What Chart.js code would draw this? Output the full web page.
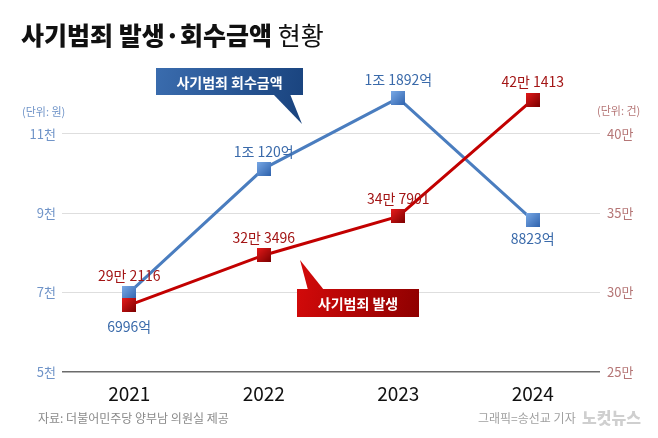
<!DOCTYPE html>
<html>
<head>
<meta charset="utf-8">
<script src="https://cdn.jsdelivr.net/npm/chart.js@4"></script>
<style>
  html, body { margin: 0; background: #fff; }
  #wrap { width: 658px; height: 438px; position: relative; }
</style>
</head>
<body>
<div id="wrap"><canvas id="chart"></canvas></div>
<script>
const years = ['2021', '2022', '2023', '2024'];
const recovered = [6996, 10120, 11892, 8823];        // 회수금액, 억 원
const cases = [292116, 323496, 347901, 421413];      // 발생 건수
const leftTicks = [5000, 7000, 9000, 11000];
const rightTicks = [250000, 300000, 350000, 400000];

const FONT = '"Noto Sans CJK KR", "Noto Sans", sans-serif';
Chart.defaults.font.family = FONT;

// label offsets (px) above/below each marker
const blueOffsets = [34, -17, -18, 19];
const redOffsets = [-29, -18, -18, -18];

const fmtWon = v => v >= 10000 ? `${Math.floor(v / 10000)}조 ${v % 10000}억` : `${v}억`;
const fmtCases = v => `${Math.floor(v / 10000)}만 ${v % 10000}`;

function squareMarker(c1, c2) {
  const s = 14;
  const cv = document.createElement('canvas');
  cv.width = s; cv.height = s;
  const g = cv.getContext('2d');
  const gr = g.createLinearGradient(0, 0, s, s);
  gr.addColorStop(0, c1);
  gr.addColorStop(1, c2);
  g.fillStyle = gr;
  g.fillRect(0, 0, s, s);
  return cv;
}

const blueMarker = squareMarker('#79a9e6', '#2f63ad');
const redMarker = squareMarker('#e51a1a', '#7a0000');

const labelPlugin = {
  id: 'pointLabels',
  afterDatasetsDraw(chart) {
    const ctx = chart.ctx;
    ctx.save();
    ctx.font = `14px ${FONT}`;
    ctx.textAlign = 'center';
    ctx.textBaseline = 'middle';
    chart.data.datasets.forEach((ds, di) => {
      const meta = chart.getDatasetMeta(di);
      meta.data.forEach((pt, i) => {
        const off = ds.yAxisID === 'yL' ? blueOffsets[i] : redOffsets[i];
        ctx.fillStyle = ds.labelColor;
        ctx.fillText(ds.fmt(ds.data[i]), pt.x, pt.y + off);
      });
    });
    ctx.restore();
  }
};

function callout(ctx, box, tri, c1, c2, text) {
  const gr = ctx.createLinearGradient(box.x, box.y, box.x + box.w, box.y + box.h);
  gr.addColorStop(0, c1);
  gr.addColorStop(1, c2);
  ctx.fillStyle = gr;
  ctx.beginPath();
  ctx.moveTo(tri[0][0], tri[0][1]);
  ctx.lineTo(tri[1][0], tri[1][1]);
  ctx.lineTo(tri[2][0], tri[2][1]);
  ctx.closePath();
  ctx.fill();
  ctx.fillRect(box.x, box.y, box.w, box.h);
  ctx.fillStyle = '#fff';
  ctx.font = `bold 14px ${FONT}`;
  ctx.textAlign = 'center';
  ctx.textBaseline = 'middle';
  ctx.fillText(text, box.x + box.w / 2, box.y + box.h / 2 + 1);
}

const decorPlugin = {
  id: 'decor',
  beforeDraw(chart) {
    const ctx = chart.ctx;
    ctx.save();
    // title
    ctx.textBaseline = 'middle';
    ctx.textAlign = 'left';
    ctx.fillStyle = '#111';
    ctx.font = `900 25px ${FONT}`;
    const t1 = '사기범죄 발생·회수금액 ';
    ctx.fillText(t1, 21, 35);
    const w1 = ctx.measureText(t1).width;
    ctx.font = `25px ${FONT}`;
    ctx.fillText('현황', 21 + w1, 35);

    // unit labels
    ctx.font = `11px ${FONT}`;
    ctx.fillStyle = '#7094c8';
    ctx.fillText('(단위: 원)', 22, 112);
    ctx.fillStyle = '#b57676';
    ctx.fillText('(단위: 건)', 597, 111);

    // footer
    ctx.font = `12px ${FONT}`;
    ctx.fillStyle = '#8a8a8a';
    ctx.fillText('자료: 더불어민주당 양부남 의원실 제공', 38, 418);
    ctx.fillStyle = '#a0a0a0';
    ctx.fillText('그래픽=송선교 기자', 478, 418);
    ctx.font = `900 16px ${FONT}`;
    ctx.fillStyle = '#cfcfcf';
    ctx.fillText('노컷뉴스', 582, 418);
    ctx.restore();
  },
  afterDraw(chart) {
    const ctx = chart.ctx;
    ctx.save();
    callout(ctx, { x: 156, y: 68, w: 147, h: 27 },
      [[273, 94], [290, 94], [302, 124]], '#3a6cae', '#1a447f', '사기범죄 회수금액');
    callout(ctx, { x: 297, y: 289, w: 122, h: 28 },
      [[308, 290], [324, 290], [300, 260]], '#d20a0a', '#8e0000', '사기범죄 발생');
    ctx.restore();
  }
};

new Chart(document.getElementById('chart').getContext('2d'), {
  type: 'line',
  data: {
    labels: years,
    datasets: [
      {
        label: '사기범죄 발생',
        data: cases,
        yAxisID: 'yR',
        borderColor: '#c20000',
        borderWidth: 3,
        pointStyle: redMarker,
        pointRadius: 7,
        labelColor: '#a31515',
        fmt: fmtCases,
        clip: false
      },
      {
        label: '사기범죄 회수금액',
        data: recovered,
        yAxisID: 'yL',
        borderColor: '#4a7dbf',
        borderWidth: 3,
        pointStyle: blueMarker,
        pointRadius: 7,
        labelColor: '#3a6aaa',
        fmt: fmtWon,
        clip: false
      }
    ]
  },
  options: {
    responsive: true,
    maintainAspectRatio: false,
    animation: false,
    layout: { padding: { top: 74, left: 0, right: 0, bottom: 0 } },
    plugins: {
      legend: { display: false },
      tooltip: { enabled: false }
    },
    scales: {
      x: {
        offset: true,
        grid: { display: false },
        border: { display: false },
        ticks: { color: '#111', font: { size: 19 }, padding: 2 },
        afterFit(s) { s.height = 66; }
      },
      yL: {
        position: 'left',
        min: 5000,
        max: 12500,
        afterBuildTicks(s) { s.ticks = leftTicks.map(v => ({ value: v })); },
        grid: {
          drawTicks: false,
          color: c => c.tick && c.tick.value === 5000 ? '#6b6b6b' : '#dedede',
          lineWidth: c => c.tick && c.tick.value === 5000 ? 1.5 : 1
        },
        border: { display: false },
        ticks: { color: '#7094c8', padding: 6, font: { size: 13 }, callback: v => `${v / 1000}천` },
        afterFit(s) { s.width = 62; }
      },
      yR: {
        position: 'right',
        min: 250000,
        max: 437500,
        afterBuildTicks(s) { s.ticks = rightTicks.map(v => ({ value: v })); },
        grid: { display: false, drawTicks: false },
        border: { display: false },
        ticks: { color: '#b57676', padding: 7, font: { size: 13 }, callback: v => `${v / 10000}만` },
        afterFit(s) { s.width = 58; }
      }
    }
  },
  plugins: [decorPlugin, labelPlugin]
});
</script>
</body>
</html>
